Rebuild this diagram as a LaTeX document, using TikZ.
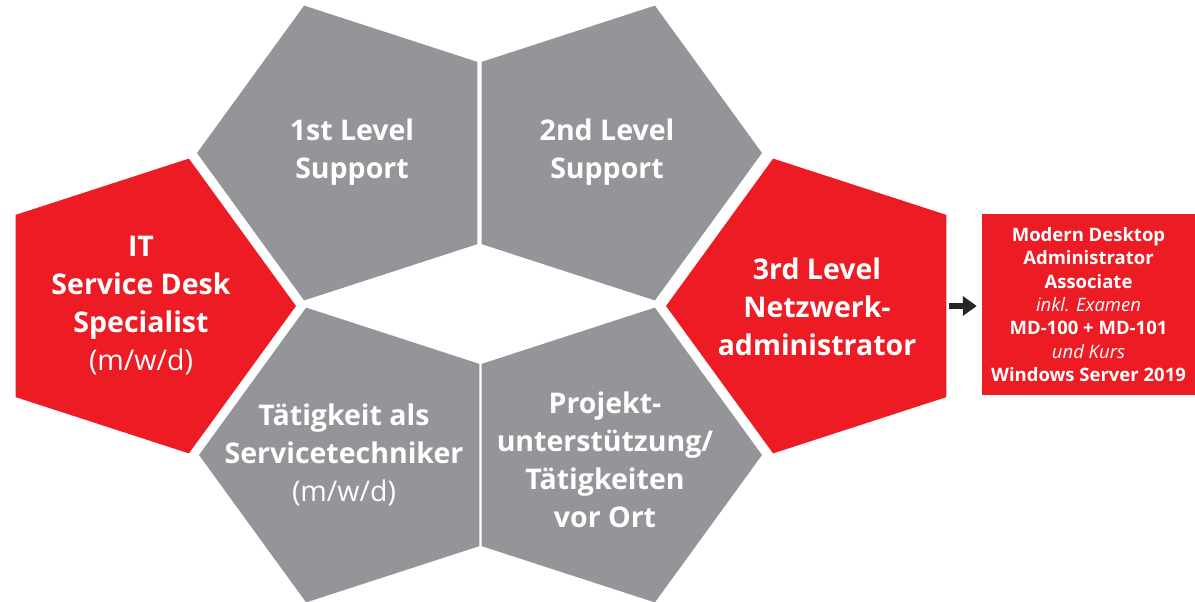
\documentclass[tikz,border=0pt]{standalone}
\usepackage{fontspec}
\setmainfont{Open Sans}
\usetikzlibrary{shapes.geometric,arrows.meta}
\definecolor{cellred}{RGB}{237,28,36}
\definecolor{cellgrey}{RGB}{147,149,152}
\begin{document}
\begin{tikzpicture}[x=1pt,y=-1pt,
    cell/.style ={regular polygon, regular polygon sides=5, minimum size=310pt, inner sep=0pt, outer sep=0pt},
    redcell/.style ={cell, fill=cellred},
    greycell/.style ={cell, fill=cellgrey},
    toleft/.style ={shape border rotate=90},
    toright/.style ={shape border rotate=-90},
    celltext/.style ={text=white, align=center, font=\bfseries\fontsize{28.5}{38}\selectfont}]
   \useasboundingbox (0,0) rectangle (1195,602);

   \node[redcell, toright] (IT) at (141,306) {};
   \node[greycell, toleft] (L1) at (352,153) {};
   \node[greycell, toright] (L2) at (607,153) {};
   \node[redcell, toleft] (NA) at (821,306) {};
   \node[greycell, toleft] (ST) at (354,455) {};
   \node[greycell, toright] (PU) at (607,455) {};

   \node[celltext] (ITtext) at (IT.center) {IT\\Service Desk\\Specialist\\{\mdseries (m/w/d)}};
   \node[celltext] (L1text) at ([yshift=1pt]L1.center) {1st Level\\Support};
   \node[celltext] (L2text) at ([yshift=1pt]L2.center) {2nd Level\\Support};
   \node[celltext] (NAtext) at ([xshift=-4pt,yshift=-1pt]NA.center) {3rd Level\\Netzwerk-\\administrator};
   \node[celltext] (STtext) at ([xshift=-10pt]ST.center) {T\"atigkeit als\\Servicetechniker\\{\mdseries (m/w/d)}};
   \node[celltext] (PUtext) at ([xshift=-2pt,yshift=-5pt]PU.center) {Projekt-\\unterst\"utzung/\\T\"atigkeiten\\vor Ort};

   \node[fill=cellred, text=white, minimum width=213pt, minimum height=181pt, inner sep=0pt,
         align=center, font=\bfseries\fontsize{18.5}{23.3}\selectfont] (exam) at (1088.5,304.5)
         {Modern Desktop\\Administrator\\Associate\\{\mdseries\itshape inkl. Examen}\\MD-100 + MD-101\\{\mdseries\itshape und Kurs}\\Windows Server 2019};

   \draw[-{Triangle[length=14pt,width=19pt]}, line width=6.5pt, black!85, shorten <=3pt, shorten >=5pt]
     (NA.east) -- (NA.east -| exam.west);
\end{tikzpicture}
\end{document}
